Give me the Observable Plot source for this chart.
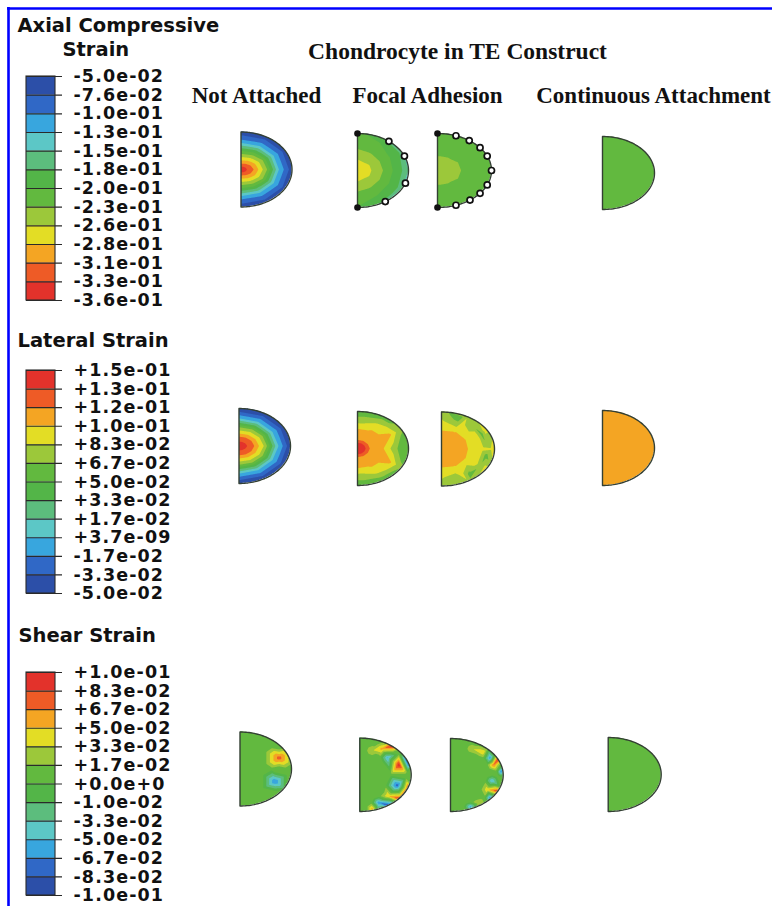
<!DOCTYPE html>
<html><head><meta charset="utf-8">
<script src="https://cdn.jsdelivr.net/npm/d3@7"></script>
<script src="https://cdn.jsdelivr.net/npm/@observablehq/plot@0.6"></script>
<style>html,body{margin:0;padding:0;background:#fff}
.ticklabels text{letter-spacing:1.1px}</style>
</head><body><div id="chart"></div>
<script>
// ---------------- DATA ----------------
// 12 contour band colours, band 0 = blue end, band 11 = red end
const bandColors = ["#2c4fa8","#3068c6","#38a6de","#5cc7c6","#5cbd7d","#53b548","#62b93f","#9cc83a","#e3dd25","#f4a523","#ee5b26","#e3322b"];

const axialTitle = ["Axial Compressive", "Strain"];
const lateralTitle = ["Lateral Strain"];
const shearTitle = ["Shear Strain"];
const axialLabels = ["-5.0e-02","-7.6e-02","-1.0e-01","-1.3e-01","-1.5e-01","-1.8e-01","-2.0e-01","-2.3e-01","-2.6e-01","-2.8e-01","-3.1e-01","-3.3e-01","-3.6e-01"];
const lateralLabels = ["+1.5e-01","+1.3e-01","+1.2e-01","+1.0e-01","+8.3e-02","+6.7e-02","+5.0e-02","+3.3e-02","+1.7e-02","+3.7e-09","-1.7e-02","-3.3e-02","-5.0e-02"];
const shearLabels = ["+1.0e-01","+8.3e-02","+6.7e-02","+5.0e-02","+3.3e-02","+1.7e-02","+0.0e+0","-1.0e-02","-3.3e-02","-5.0e-02","-6.7e-02","-8.3e-02","-1.0e-01"];

const headerTitle = "Chondrocyte in TE Construct";
const columnTitles = ["Not Attached", "Focal Adhesion", "Continuous Attachment"];

// Band level read from the picture along rays from the centre of the flat edge
// (rows: ray angle -90..90 deg; columns: relative radius)
const rayAngles = [-90, -60, -30, 0, 30, 60, 90];
const rayRadii = [0, 0.25, 0.5, 0.75, 0.95, 1.15];

const axialNotAttached = [
  [11.9, 8.9, 6.0, 2.4, 0.7, 0],
  [11.9, 9.2, 6.3, 2.6, 0.8, 0],
  [11.9, 9.7, 6.9, 2.8, 0.9, 0],
  [11.9, 10.0, 7.2, 2.9, 0.9, 0],
  [11.9, 9.7, 6.9, 2.8, 0.9, 0],
  [11.9, 9.2, 6.3, 2.6, 0.8, 0],
  [11.9, 8.9, 6.0, 2.4, 0.7, 0]
];
const axialFocal1 = [
  [8.6, 8.2, 7.2, 6.6, 6.3, 6.0],
  [8.6, 8.0, 7.1, 6.3, 5.8, 3.5],
  [8.6, 8.1, 7.0, 5.9, 5.0, 2.5],
  [8.6, 8.1, 7.0, 5.7, 4.6, 2.5],
  [8.6, 8.1, 7.0, 5.8, 4.8, 2.0],
  [8.6, 8.0, 7.1, 6.1, 5.3, 2.0],
  [8.6, 8.2, 7.2, 6.5, 6.1, 5.5]
];
const axialFocal2 = [
  [7.6, 7.25, 6.8, 6.5, 6.5, 6.5],
  [7.6, 7.3, 6.8, 6.5, 6.5, 6.5],
  [7.6, 7.3, 6.9, 6.6, 6.5, 6.5],
  [7.6, 7.3, 6.9, 6.6, 6.5, 6.5],
  [7.6, 7.3, 6.9, 6.6, 6.5, 6.5],
  [7.6, 7.3, 6.8, 6.5, 6.5, 6.5],
  [7.6, 7.25, 6.8, 6.5, 6.5, 6.5]
];
const axialContinuous = 6.5;

const lateralNotAttached = [
  [11.9, 10.0, 7.0, 2.8, 0.6, 0],
  [11.9, 10.1, 7.2, 2.9, 0.7, 0],
  [11.9, 10.3, 7.5, 3.0, 0.8, 0],
  [11.9, 10.5, 7.8, 3.2, 0.8, 0],
  [11.9, 10.3, 7.5, 3.0, 0.8, 0],
  [11.9, 10.1, 7.2, 2.9, 0.7, 0],
  [11.9, 10.0, 7.0, 2.8, 0.6, 0]
];
const lateralFocal1 = [
  [13, 9.8, 9.2, 7.6, 6.5, 6.3],
  [13, 9.8, 9.3, 8.2, 6.8, 6.5],
  [13, 9.8, 9.4, 9.1, 7.3, 6.8],
  [13, 9.9, 9.1, 7.2, 6.0, 6.6],
  [13, 9.8, 9.4, 9.1, 7.3, 6.8],
  [13, 9.8, 9.3, 8.2, 6.6, 5.5],
  [13, 9.8, 9.2, 7.6, 6.5, 6.3]
];
const lateralFocal2 = [
  [9.8, 9.6, 9.0, 8.2, 7.6, 7.2],
  [9.8, 9.6, 9.1, 8.4, 8.0, 7.8],
  [9.8, 9.6, 9.05, 8.5, 8.2, 8.0],
  [9.8, 9.6, 9.0, 8.5, 8.2, 8.0],
  [9.8, 9.6, 9.05, 8.5, 8.2, 8.0],
  [9.8, 9.6, 9.1, 8.4, 8.0, 7.8],
  [9.8, 9.6, 9.0, 8.2, 7.6, 7.2]
];
// spots [u, v, level, half-width, half-height] (u,v relative to the cell)
const lateralFocal2Spots = [
  [0.32,-0.80,6.6,0,0],[0.58,-0.64,7.2,0,0],[0.76,-0.40,6.6,0,0],[0.85,-0.12,7.2,0,0],
  [0.84,0.18,6.6,0,0],[0.73,0.46,7.2,0,0],[0.53,0.68,6.6,0,0],[0.27,0.82,7.2,0,0]
];
const lateralContinuous = 9.5;

const shearBackground = 6.5;
const shearNotAttachedSpots = [
  [0.76,-0.30,10.6,0.40,0.26],
  [0.68,0.34,2.0,0.36,0.28]
];
const shearFocal1Spots = [
  [0.24,-0.66,7.8,0.16,0.2],[0.43,-0.71,9.4,0.15,0.2],[0.54,-0.47,2.8,0.15,0.2],
  [0.66,-0.80,12.0,0.15,0.18],[0.95,-0.36,0.2,0.1,0.2],[0.76,-0.27,11.8,0.24,0.3],
  [0.73,0.29,1.3,0.24,0.3],[0.95,0.40,11.5,0.1,0.18],[0.56,0.58,9.0,0.15,0.18],
  [0.63,0.86,0.2,0.15,0.14],[0.80,0.66,11.5,0.13,0.16],[0.37,0.76,2.2,0.15,0.18],
  [0.24,0.93,9.5,0.15,0.12]
];
const shearFocal2Spots = [
  [0.41,-0.72,7.9,0.14,0.17],[0.62,-0.62,8.9,0.14,0.17],[0.75,-0.47,2.3,0.11,0.16],
  [0.91,-0.45,11.5,0.09,0.16],[0.82,-0.28,10.2,0.13,0.17],[0.96,-0.10,2.0,0.09,0.17],
  [0.79,0.16,2.9,0.14,0.17],[0.70,0.40,8.8,0.14,0.17],[0.75,0.62,2.2,0.11,0.16],
  [0.54,0.77,8.0,0.14,0.16],[0.38,0.87,2.6,0.14,0.14],[0.89,0.44,11.0,0.09,0.16]
];
const shearContinuous = 6.5;

// attachment point angles on the rim (deg)
const focal1Attach = [-52, -23, 20, 57];
const focal2Attach = [-70, -54, -38, -23, 0, 23, 38, 53, 70];

// ---------------- LAYOUT ----------------
const W = 772, H = 906;
const rad = Math.PI / 180;

function insideSpot(p, spots) {
  return spots.some(([u, v, L, su, sv]) => su > 0 && ((p.u - u) / su) ** 2 + ((p.v - v) / sv) ** 2 < 1.1);
}
function addSpots(pts, spots, base) {
  const kept = base == null ? pts : pts.filter(p => !insideSpot(p, spots));
  for (const [u, v, L, su, sv] of spots) {
    kept.push({u, v, L});
    if (su > 0) for (let k = 0; k < 8; k++) {
      const a = k * 45 * rad;
      const q = {u: u + su * Math.cos(a), v: v + sv * Math.sin(a), L: base};
      if (!insideSpot(q, spots.filter(s => s[0] !== u || s[1] !== v))) kept.push(q);
    }
  }
  return kept;
}
function rayField(table, spots = []) {
  const pts = [{u: 0, v: 0, L: table[3][0]}];
  table.forEach((row, i) => rayRadii.forEach((r, j) => {
    if (j === 0) return;
    const a = rayAngles[i] * rad;
    pts.push({u: r * Math.cos(a), v: r * Math.sin(a), L: row[j]});
  }));
  return addSpots(pts, spots, null);
}
function flatField(level, spots = []) {
  const pts = [];
  for (const u of [0, 0.3, 0.6, 0.9, 1.2])
    for (const v of [-1.2, -0.9, -0.6, -0.3, 0, 0.3, 0.6, 0.9, 1.2]) pts.push({u, v, L: level});
  return addSpots(pts, spots, level);
}

const cells = [
  {x0: 240.5, yc: 169, rx: 51, ry: 37.5, pts: rayField(axialNotAttached)},
  {x0: 357, yc: 170, rx: 51, ry: 37, pts: rayField(axialFocal1), attach: focal1Attach},
  {x0: 437, yc: 170, rx: 54, ry: 37, pts: rayField(axialFocal2), attach: focal2Attach},
  {x0: 602, yc: 172.5, rx: 52, ry: 36.5, pts: flatField(axialContinuous)},
  {x0: 238.5, yc: 445.5, rx: 51.5, ry: 37.5, pts: rayField(lateralNotAttached)},
  {x0: 357, yc: 448, rx: 51, ry: 37, pts: rayField(lateralFocal1)},
  {x0: 441, yc: 448.5, rx: 53, ry: 37, pts: rayField(lateralFocal2, lateralFocal2Spots)},
  {x0: 602, yc: 447.5, rx: 52, ry: 37.5, pts: flatField(lateralContinuous)},
  {x0: 239.5, yc: 768.5, rx: 51.5, ry: 37, pts: flatField(shearBackground, shearNotAttachedSpots)},
  {x0: 359.3, yc: 774.3, rx: 51.4, ry: 36.7, pts: flatField(shearBackground, shearFocal1Spots)},
  {x0: 450, yc: 774.5, rx: 52.7, ry: 36.5, pts: flatField(shearBackground, shearFocal2Spots)},
  {x0: 607.7, yc: 774, rx: 53, ry: 37, pts: flatField(shearContinuous)}
];

const legends = [
  {title: axialTitle, titleX: [17, 62], titleY: [31, 55], labels: axialLabels, top: 76, bottom: 300, blueTop: true},
  {title: lateralTitle, titleX: [17], titleY: [346], labels: lateralLabels, top: 370, bottom: 593, blueTop: false},
  {title: shearTitle, titleX: [18], titleY: [641], labels: shearLabels, top: 672, bottom: 895, blueTop: false}
];
const barX1 = 26, barX2 = 55, tickX2 = 62, labelX = 73;
const sansFont = "DejaVu Sans, Verdana, sans-serif";
const serifFont = "Liberation Serif, Times New Roman, serif";
const outlineColor = "#344034";

const marks = [];

for (const c of cells) {
  marks.push(Plot.contour(c.pts, {
    x: d => c.x0 + d.u * c.rx,
    y: d => c.yc + d.v * c.ry,
    fill: "L",
    interpolate: "barycentric",
    thresholds: d3.range(12),
    x1: c.x0, x2: c.x0 + 1.2 * c.rx,
    y1: c.yc - 1.2 * c.ry, y2: c.yc + 1.2 * c.ry,
    pixelSize: 0.5
  }));
}
for (const c of cells) {
  const pts = [{y: c.yc - 1.2 * c.ry - 2, xb: c.x0 - 3}, {y: c.yc - c.ry, xb: c.x0 - 3}];
  for (let t = -90; t <= 90; t += 1) pts.push({y: c.yc + c.ry * Math.sin(t * rad), xb: c.x0 + c.rx * Math.cos(t * rad)});
  pts.push({y: c.yc + c.ry, xb: c.x0 - 3}, {y: c.yc + 1.2 * c.ry + 2, xb: c.x0 - 3});
  marks.push(Plot.areaX(pts, {y: "y", x1: "xb", x2: c.x0 + 1.2 * c.rx + 3, fill: "white"}));
}
for (const c of cells) {
  const pts = [];
  for (let t = -90; t <= 90; t += 2) pts.push({x: c.x0 + c.rx * Math.cos(t * rad), y: c.yc + c.ry * Math.sin(t * rad)});
  pts.push(pts[0]);
  marks.push(Plot.line(pts, {x: "x", y: "y", stroke: outlineColor, strokeWidth: 1.4}));
}
for (const c of cells) {
  if (!c.attach) continue;
  marks.push(Plot.dot(c.attach, {x: a => c.x0 + c.rx * Math.cos(a * rad), y: a => c.yc + c.ry * Math.sin(a * rad), r: 3, fill: "white", stroke: "#111", strokeWidth: 1.7}));
  marks.push(Plot.dot([-90, 90], {x: a => c.x0 + c.rx * Math.cos(a * rad), y: a => c.yc + c.ry * Math.sin(a * rad), r: 3.3, fill: "#111"}));
}
marks.push(Plot.text([headerTitle], {x: 457, y: 58, text: d => d, fontFamily: serifFont, fontWeight: "bold", fontSize: 23.5, lineAnchor: "bottom", fill: "#111"}));
const colCenters = [256, 427, 653];
marks.push(Plot.text(columnTitles, {x: (d, i) => colCenters[i], y: 102, text: d => d, fontFamily: serifFont, fontWeight: "bold", fontSize: 23, lineAnchor: "bottom", fill: "#111"}));

for (const lg of legends) {
  const h = (lg.bottom - lg.top) / 12;
  const bands = d3.range(12).map(i => ({i, band: lg.blueTop ? i : 11 - i}));
  marks.push(Plot.rect(bands, {x1: barX1, x2: barX2, y1: d => lg.top + d.i * h, y2: d => lg.top + (d.i + 1) * h, fill: "band"}));
  marks.push(Plot.ruleY(lg.labels, {y: (d, i) => lg.top + i * h, x1: barX1, x2: tickX2, stroke: "#2a2a2a", strokeWidth: 1.1}));
  marks.push(Plot.rect([0], {x1: barX1, x2: barX2, y1: lg.top, y2: lg.bottom, fill: "none", stroke: "#2a2a2a", strokeWidth: 1.1}));
  marks.push(Plot.text(lg.labels, {x: labelX, y: (d, i) => lg.top + i * h, text: d => d, textAnchor: "start", fontFamily: sansFont, fontWeight: "bold", fontSize: 17.5, fill: "#111", className: "ticklabels"}));
  marks.push(Plot.text(lg.title, {x: (d, i) => lg.titleX[i], y: (d, i) => lg.titleY[i], text: d => d, textAnchor: "start", lineAnchor: "bottom", fontFamily: sansFont, fontWeight: "bold", fontSize: 19.5, fill: "#111"}));
}
marks.push(Plot.ruleY([8], {x1: 7, x2: W, stroke: "#0000ff", strokeWidth: 2.6}));
marks.push(Plot.ruleX([8], {y1: 7, y2: H, stroke: "#0000ff", strokeWidth: 2.6}));

const chart = Plot.plot({
  width: W, height: H, margin: 0,
  x: {domain: [0, W], range: [0, W], axis: null},
  y: {domain: [0, H], range: [0, H], axis: null},
  color: {type: "ordinal", domain: d3.range(12), range: bandColors},
  style: {background: "white"},
  marks
});
document.getElementById("chart").appendChild(chart);
</script></body></html>
